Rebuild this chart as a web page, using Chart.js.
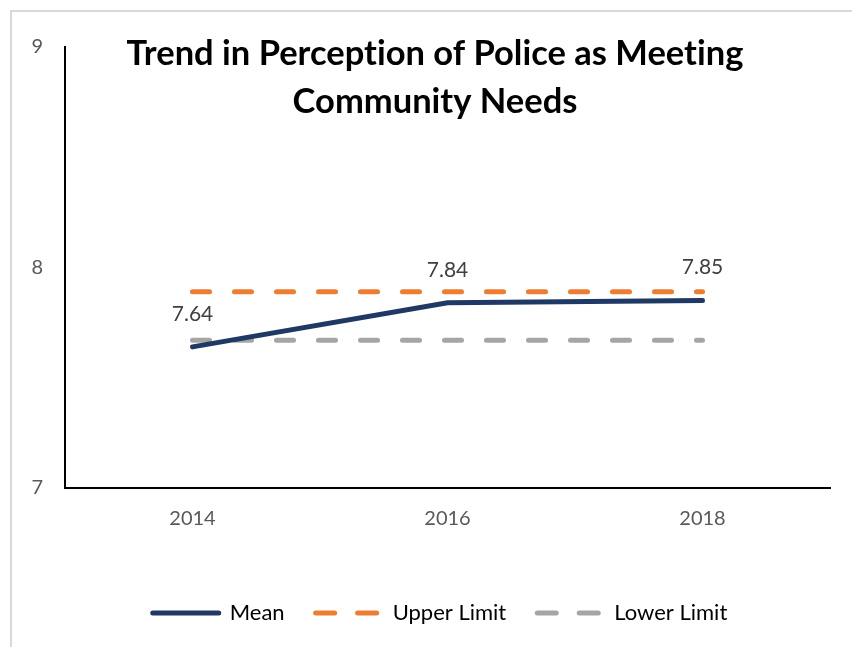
<!DOCTYPE html>
<html lang="en">
<head>
<meta charset="utf-8">
<title>Trend in Perception of Police as Meeting Community Needs</title>
<script src="https://cdn.jsdelivr.net/npm/chart.js@4.4.0/dist/chart.umd.min.js"></script>
<style>
  html, body { margin: 0; padding: 0; background: #fff; }
  .frame {
    position: absolute; left: 10px; top: 10px; width: 900px; height: 700px;
    border-left: 2px solid #d9d9d9; border-top: 2px solid #d9d9d9;
  }
  .wrap { position: absolute; left: 0; top: 0; width: 852px; height: 647px; }
</style>
</head>
<body>
<div class="frame"></div>
<div class="wrap"><canvas id="trend" width="852" height="647"></canvas></div>
<script>
  // survey years and scores
  const years = ['2014', '2016', '2018'];
  const meanScores = [7.64, 7.84, 7.85];
  const upperLimit = [7.89, 7.89, 7.89];
  const lowerLimit = [7.67, 7.67, 7.67];
  const yTicks = [7, 8, 9];
  const titleLines = ['Trend in Perception of Police as Meeting', 'Community Needs'];

  const FONT = 'Lato, "Open Sans", sans-serif';

  // title sits over the plot area, so it is painted by hand
  const titlePlugin = {
    id: 'titleOverlay',
    afterDraw(chart) {
      const c = chart.ctx;
      c.save();
      c.textRendering = 'optimizeSpeed'; // no "ti" ligature
      c.font = 'bold 34.5px ' + FONT;
      c.fillStyle = '#000';
      c.textAlign = 'center';
      c.textBaseline = 'alphabetic';
      c.fillText(titleLines[0], 435, 65);
      c.fillText(titleLines[1], 435, 113);
      c.restore();
    }
  };

  // value labels above the mean line
  const valueLabels = {
    id: 'valueLabels',
    afterDatasetsDraw(chart) {
      const c = chart.ctx;
      const meta = chart.getDatasetMeta(0);
      c.save();
      c.font = '21px ' + FONT;
      c.fillStyle = '#404040';
      c.textAlign = 'center';
      c.textBaseline = 'middle';
      meta.data.forEach((pt, i) => {
        c.fillText(meanScores[i].toFixed(2), pt.x, pt.y - 33);
      });
      c.restore();
    }
  };

  // legend is centred on the whole figure, not the plot
  const legendShift = {
    id: 'legendShift',
    afterLayout(chart) {
      if (chart.legend) {
        chart.legend.left = 28;
        chart.legend.right = 852;
      }
    }
  };

  const lineDash = [17, 25];

  new Chart(document.getElementById('trend'), {
    type: 'line',
    data: {
      labels: years,
      datasets: [
        {
          label: 'Mean',
          data: meanScores,
          borderColor: '#203864',
          backgroundColor: '#203864',
          borderWidth: 5,
          borderCapStyle: 'round',
          pointRadius: 0,
          tension: 0
        },
        {
          label: 'Upper Limit',
          data: upperLimit,
          borderColor: '#ED7D31',
          backgroundColor: '#ED7D31',
          borderWidth: 5,
          borderDash: lineDash,
          borderCapStyle: 'round',
          pointRadius: 0
        },
        {
          label: 'Lower Limit',
          data: lowerLimit,
          borderColor: '#A5A5A5',
          backgroundColor: '#A5A5A5',
          borderWidth: 5,
          borderDash: lineDash,
          borderCapStyle: 'round',
          pointRadius: 0
        }
      ]
    },
    options: {
      responsive: false,
      animation: false,
      layout: { padding: { left: 0, top: 47, right: 22, bottom: 13 } },
      plugins: {
        title: { display: false },
        tooltip: { enabled: false },
        legend: {
          position: 'bottom',
          labels: {
            usePointStyle: true,
            pointStyle: 'line',
            pointStyleWidth: 66,
            padding: 31,
            color: '#595959',
            font: { family: FONT, size: 22 },
            generateLabels(chart) {
              return chart.data.datasets.map((ds, i) => ({
                text: ds.label,
                datasetIndex: i,
                strokeStyle: ds.borderColor,
                fillStyle: ds.borderColor,
                lineWidth: 5,
                lineCap: 'round',
                lineDash: ds.borderDash ? [19, 23] : [],
                pointStyle: 'line',
                hidden: false
              }));
            }
          }
        }
      },
      scales: {
        x: {
          offset: true,
          grid: { display: false, drawTicks: false },
          border: { display: true, color: '#000', width: 2 },
          ticks: {
            padding: 19,
            color: '#595959',
            font: { family: FONT, size: 20 }
          },
          afterFit(scale) { scale.height = 83; }
        },
        y: {
          min: 7,
          max: 9,
          grid: { display: false, drawTicks: false },
          border: { display: true, color: '#000', width: 2 },
          afterBuildTicks(scale) { scale.ticks = yTicks.map(v => ({ value: v })); },
          ticks: {
            padding: 22,
            color: '#595959',
            font: { family: FONT, size: 20 }
          },
          afterFit(scale) { scale.width = 65; }
        }
      }
    },
    plugins: [titlePlugin, valueLabels, legendShift]
  });
</script>
</body>
</html>
